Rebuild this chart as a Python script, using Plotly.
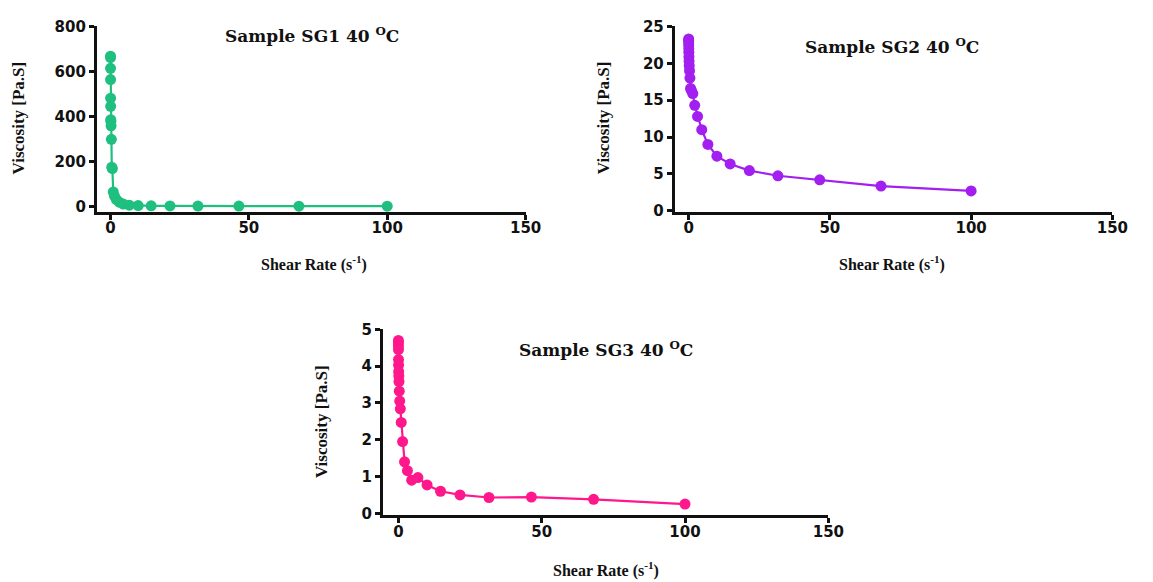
import plotly.graph_objects as go

# Shear rates (s^-1), log-spaced sweep shared by all three samples
shear_rate = [0.01, 0.0147, 0.0215, 0.0316, 0.0464, 0.0681,
              0.1, 0.147, 0.215, 0.316, 0.464, 0.681,
              1.0, 1.47, 2.15, 3.16, 4.64, 6.81,
              10.0, 14.7, 21.5, 31.6, 46.4, 68.1, 100.0]

# Viscosity (Pa.S) at 40 °C
visc_sg1 = [668, 662, 614, 564, 481, 445, 385, 378, 358, 298, 174, 168,
            64, 45, 30, 18, 10, 5, 3, 2, 1.5, 1.0, 0.8, 0.6, 0.5]
visc_sg2 = [23.3, 23.1, 22.9, 22.5, 22.0, 21.5, 20.9, 20.3, 19.7, 19.0, 18.0, 16.6,
            16.3, 15.9, 14.3, 12.8, 11.0, 9.0, 7.4, 6.35, 5.45, 4.75, 4.2, 3.35, 2.7]
visc_sg3 = [4.7, 4.64, 4.55, 4.45, 4.18, 4.03, 3.85, 3.73, 3.58, 3.32, 3.05, 2.84,
            2.47, 1.95, 1.4, 1.16, 0.9, 0.97, 0.77, 0.6, 0.5, 0.43, 0.44, 0.38, 0.25]

x_ticks = [0, 50, 100, 150]
y_ticks_sg1 = [0, 200, 400, 600, 800]
y_ticks_sg2 = [0, 5, 10, 15, 20, 25]
y_ticks_sg3 = [0, 1, 2, 3, 4, 5]

W, H = 1153, 582
GREEN = "#1fbf80"
PURPLE = "#a21ff0"
PINK = "#ff178c"

fig = go.Figure()

panels = [
    ("x", "y", visc_sg1, GREEN),
    ("x2", "y2", visc_sg2, PURPLE),
    ("x3", "y3", visc_sg3, PINK),
]
for xa, ya, vals, col in panels:
    fig.add_trace(go.Scatter(
        x=shear_rate, y=vals, xaxis=xa, yaxis=ya,
        mode="lines+markers",
        line=dict(color=col, width=2.2),
        marker=dict(color=col, size=11),
        showlegend=False, hoverinfo="x+y",
    ))

tick_font = dict(family="DejaVu Sans, Arial, sans-serif", size=15, color="#111", weight="bold")


def px_x(a, b):
    return [a / W, b / W]


def px_y(top, bottom):
    return [1 - bottom / H, 1 - top / H]


def axis_style(**kw):
    d = dict(showline=True, linecolor="#111", linewidth=2.5, mirror=False,
             showgrid=False, zeroline=False, ticks="outside", ticklen=5,
             tickwidth=2.5, tickcolor="#111", tickfont=tick_font)
    d.update(kw)
    return d


fig.update_layout(
    width=W, height=H,
    margin=dict(l=0, r=0, t=0, b=0),
    paper_bgcolor="white", plot_bgcolor="white",
    xaxis=axis_style(domain=px_x(98, 533), range=[-5, 150], tickvals=x_ticks, anchor="y",
                     ticklabelstandoff=-5),
    yaxis=axis_style(domain=px_y(18, 209), range=[-25, 800], tickvals=y_ticks_sg1, anchor="x"),
    xaxis2=axis_style(domain=px_x(684, 1128), range=[-5, 150], tickvals=x_ticks, anchor="y2",
                      ticklabelstandoff=-5),
    yaxis2=axis_style(domain=px_y(18, 209), range=[-0.15, 25], tickvals=y_ticks_sg2, anchor="x2"),
    xaxis3=axis_style(domain=px_x(388, 840), range=[-5.5, 150], tickvals=x_ticks, anchor="y3",
                      ticklabelstandoff=-4),
    yaxis3=axis_style(domain=px_y(330, 521), range=[-0.04, 5], tickvals=y_ticks_sg3, anchor="x3"),
)


def note(text, cx, cy, angle=0, size=15, family="Liberation Serif, Times New Roman, serif"):
    f = dict(family=family, size=size, color="#111", weight="bold")
    fig.add_annotation(text=text, x=cx / W, y=1 - cy / H, xref="paper", yref="paper",
                       showarrow=False, textangle=angle, font=f,
                       xanchor="center", yanchor="middle")


# Panel titles
wide_serif = "DejaVu Serif, Liberation Serif, serif"
note("Sample SG1 40 <sup>O</sup>C", 316, 27, size=17, family=wide_serif)
note("Sample SG2 40 <sup>O</sup>C", 905, 38, size=17, family=wide_serif)
note("Sample SG3 40 <sup>O</sup>C", 615, 350, size=17, family=wide_serif)

# Axis titles
for cx, cy in [(318, 262), (905, 262), (615, 577)]:
    note("Shear Rate (s<sup>-1</sup>)", cx, cy, size=16)
for cx, cy in [(19, 112), (612, 112), (326, 425)]:
    note("Viscosity [Pa.S]", cx, cy, angle=-90, size=17)

fig.write_html("out.html")
